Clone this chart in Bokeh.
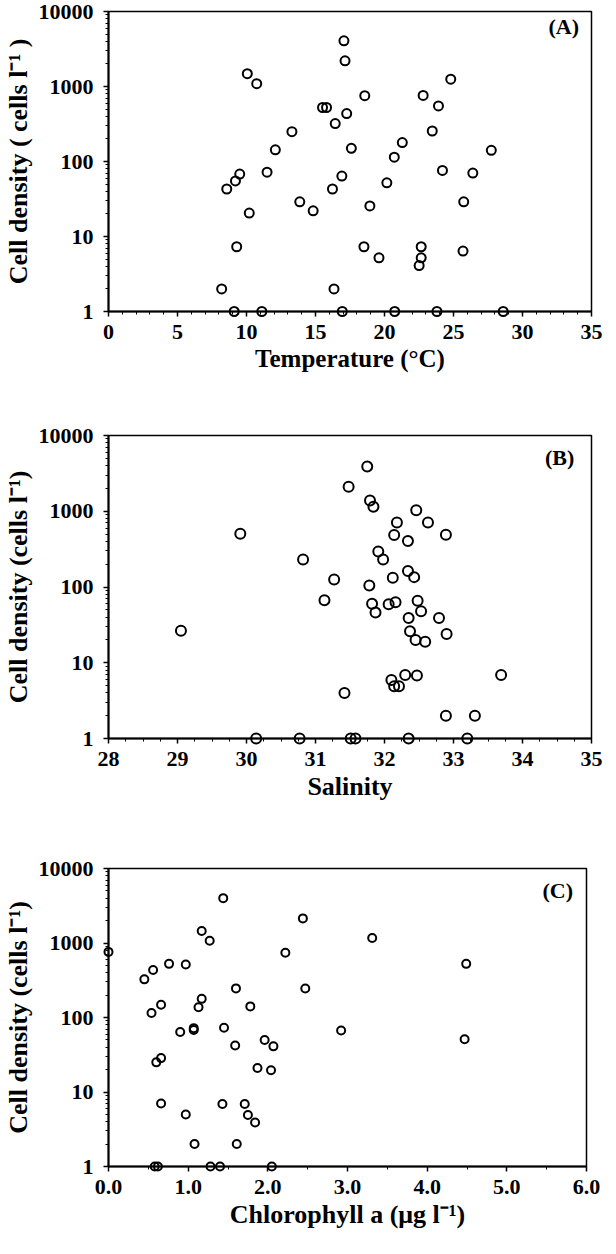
from bokeh.plotting import figure
from bokeh.layouts import column
from bokeh.models import (FixedTicker, SingleIntervalTicker, PrintfTickFormatter,
                          Label, Range1d)
from bokeh.embed import file_html
from bokeh.resources import INLINE

FONT = "Liberation Serif"

# ---------------- data ----------------
temperature = [17.06, 17.14, 10.06, 10.74, 24.8, 18.57, 22.8, 15.51, 15.8, 23.91,
               17.26, 16.43, 13.29, 23.46, 21.29, 12.09, 17.6, 27.74, 20.71, 11.49,
               24.2, 26.4, 9.51, 9.2, 8.57, 16.91, 16.23, 20.17, 13.86, 14.83,
               10.2, 18.94, 25.74, 9.29, 18.51, 19.6, 22.66, 22.66, 22.51, 25.69,
               8.2, 16.34, 9.11, 11.11, 16.94, 20.74, 23.8, 28.6]
cells_a = [4070, 2200, 1480, 1090, 1250, 755, 760, 525, 525, 550,
           435, 320, 250, 255, 179, 143, 150, 141, 114, 72,
           76, 70, 68, 55, 43, 64, 43, 52, 29, 22,
           20.5, 25.6, 29, 7.3, 7.3, 5.2, 7.3, 5.2, 4.1, 6.4,
           2, 2, 1, 1, 1, 1, 1, 1]

salinity = [31.75, 31.48, 31.79, 31.84, 32.46, 32.63, 32.18, 29.91, 32.14, 32.89,
            32.34, 31.91, 31.98, 30.82, 32.34, 32.43, 32.12, 31.27, 31.78, 31.13,
            32.48, 31.82, 32.16, 32.06, 31.87, 32.53, 32.35, 32.79, 32.37, 32.9,
            29.05, 32.45, 32.59, 32.3, 32.47, 33.69, 32.1, 32.14, 32.21, 31.42,
            32.89, 33.31, 30.14, 30.77, 31.51, 31.58, 32.35, 33.2]
cells_b = [3900, 2100, 1390, 1150, 1030, 710, 710, 505, 485, 490,
           405, 295, 230, 230, 163, 135, 132, 126, 105, 67,
           66, 60, 63, 59, 46, 48, 39, 39, 26, 24,
           26.5, 20, 19, 6.9, 6.8, 6.9, 5.9, 4.9, 4.9, 4.0,
           2, 2, 1, 1, 1, 1, 1, 1]

chlorophyll = [1.44, 2.44, 1.17, 1.27, 3.31, 0.0, 2.22, 0.76, 0.97, 4.49,
               0.56, 0.45, 1.6, 2.47, 1.17, 1.13, 0.66, 1.78, 0.54, 1.45,
               1.07, 1.07, 0.9, 2.92, 1.96, 4.47, 1.59, 2.07, 0.66, 0.6,
               1.87, 2.04, 0.66, 1.43, 1.71, 0.97, 1.75, 1.84, 1.08, 1.61,
               0.58, 0.62, 1.28, 1.4, 2.05]
cells_c = [4000, 2140, 1450, 1070, 1170, 760, 740, 525, 515, 525,
           435, 325, 246, 245, 178, 137, 148, 141, 115, 73,
           72, 68, 64, 67, 50, 51, 42, 41, 28.5, 25,
           21, 19.6, 7.0, 6.9, 6.9, 5.0, 4.9, 3.9, 2.0, 2.0,
           1, 1, 1, 1, 1]

y_ticks = [1, 10, 100, 1000, 10000]
y_minor = [m * d for d in [1, 10, 100, 1000] for m in range(2, 10)]


def make_panel(xs, ys, xr, interval, n_minor, xfmt, xlabel, ylabel, tag, tag_pos,
               marker_size, fw, fh, bl, bt, bb, br, xlab_size):
    p = figure(output_backend="svg", toolbar_location=None,
               y_axis_type="log", x_range=Range1d(*xr), y_range=Range1d(1, 10000),
               frame_width=fw, frame_height=fh,
               min_border_left=bl, min_border_top=bt, min_border_bottom=bb,
               min_border_right=br)
    p.background_fill_color = "white"
    p.border_fill_color = "white"
    p.grid.visible = False
    p.outline_line_color = "black"
    p.outline_line_width = 1.5

    p.xaxis.ticker = SingleIntervalTicker(interval=interval, num_minor_ticks=n_minor)
    p.xaxis.formatter = PrintfTickFormatter(format=xfmt)
    p.yaxis.ticker = FixedTicker(ticks=y_ticks, minor_ticks=y_minor)
    p.yaxis.formatter = PrintfTickFormatter(format="%d")

    for ax in (p.xaxis[0], p.yaxis[0]):
        ax.axis_line_width = 2
        ax.major_tick_line_width = 1.5
        ax.minor_tick_line_width = 1
        ax.major_tick_out = 5
        ax.major_tick_in = 0
        ax.minor_tick_out = 3
        ax.minor_tick_in = 0
        ax.major_label_text_font = FONT
        ax.major_label_text_font_size = "22px"
        ax.major_label_text_font_style = "bold"
        ax.major_label_text_color = "black"
        ax.axis_label_text_font = FONT
        ax.axis_label_text_font_style = "bold"
        ax.axis_label_text_color = "black"
    p.xaxis.axis_label_text_font_size = xlab_size
    p.yaxis.axis_label_text_font_size = "26px"
    p.xaxis.axis_label = xlabel
    p.yaxis.axis_label = ylabel
    p.xaxis.major_label_standoff = 8
    p.yaxis.major_label_standoff = 10
    p.xaxis.axis_label_standoff = 3
    p.yaxis.axis_label_standoff = 3

    r = p.scatter(xs, ys, marker="circle", size=marker_size, fill_color=None,
                  line_color="black", line_width=2)
    r.level = "overlay"

    p.add_layout(Label(x=tag_pos[0], y=tag_pos[1], text=tag, text_align="right",
                       text_font=FONT, text_font_size="22px", text_font_style="bold",
                       text_color="black"))
    return p


pa = make_panel(temperature, cells_a, (0, 35), 5, 5, "%d", "Temperature (\u00b0C)",
                "Cell density ( cells l\u207b\u00b9 )", "(A)", (34.1, 4250), 9,
                483, 300, 101, 11, 81, 16, "25px")
pb = make_panel(salinity, cells_b, (28, 35), 1, 4, "%d", "Salinity",
                "Cell density (cells l\u207b\u00b9)", "(B)", (34.75, 3550), 10,
                483, 303, 104, 43, 74, 13, "26px")
pc = make_panel(chlorophyll, cells_c, (0, 6), 1, 2, "%.1f",
                "Chlorophyll a (\u03bcg l\u207b\u00b9)",
                "Cell density (cells l\u207b\u00b9)", "(C)", (5.83, 3450), 8,
                478, 298, 105, 56, 72, 17, "26px")

layout = column(pa, pb, pc)
open("out.html", "w").write(file_html(layout, INLINE))
